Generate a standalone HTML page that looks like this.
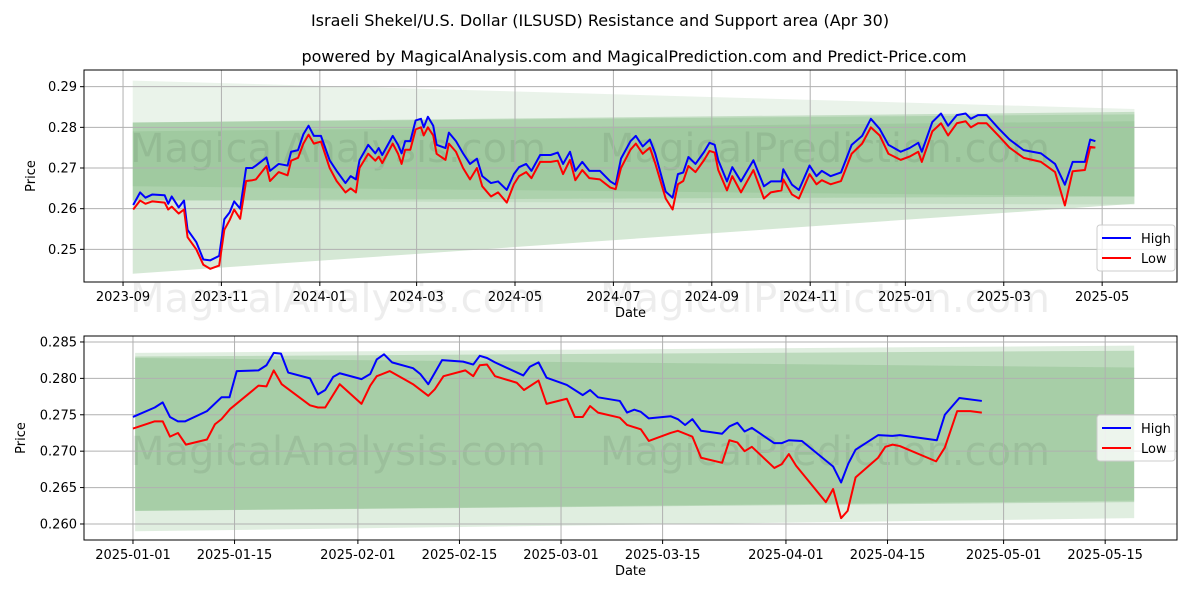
<!DOCTYPE html>
<html><head><meta charset="utf-8"><style>
body{margin:0;background:#fff;font-family:"Liberation Sans","DejaVu Sans",sans-serif;}
svg text{font-family:"DejaVu Sans","Liberation Sans",sans-serif;}
</style></head><body>
<svg id="c" width="1200" height="600" viewBox="0 0 1200 600" xmlns="http://www.w3.org/2000/svg">
<text x="600" y="26" text-anchor="middle" font-size="16">Israeli Shekel/U.S. Dollar (ILSUSD) Resistance and Support area (Apr 30)</text>
<text x="634" y="62" text-anchor="middle" font-size="16">powered by MagicalAnalysis.com and MagicalPrediction.com and Predict-Price.com</text>
</svg>
<script>
// ---- top chart data (day offsets from 2023-09-01) ----
const topDays=[6.3,10.6,13.9,18.2,25.8,28,30.2,34.5,37.8,40,45.4,49.8,54.1,59.6,62.8,66.1,68.9,72.6,76.3,80.2,82.4,88.9,91.1,96.5,102,104.2,108.5,111.8,115,118.3,122.7,128.1,132.4,137.9,141.1,144.4,146.6,152,156.4,158.5,160.7,167.2,170.5,172.7,174.9,178.1,181.4,184.7,186.4,189,192.3,194.4,199.9,202,206.4,210.8,215.1,219.4,222.7,228.1,232.5,237.9,242.3,245.5,249.9,253.2,258.6,265.1,269.5,272.8,277.1,280.4,284.7,289.1,295.6,302.1,305.4,308.7,
314.6,317.9,322.2,326.6,329.9,336.4,340.7,344,347.3,350.5,354.9,360.3,363.6,366.8,369,374.4,377.7,383.1,390.8,397.3,401.6,408.2,409.3,414.7,419,425.6,429.9,433.2,438.6,445.1,451.7,458.2,463.6,469.1,474.5,482.1,487.6,493,495.2,501.7,507.1,511.5,516.9,522.4,525.6,530,535.4,543.1,549.6,558.3,569.1,577.8,583.9,588.7,596.3,599.6,602.8];
const topHigh=[0.2609,0.2640,0.2627,0.2635,0.2633,0.2612,0.2630,0.2603,0.2620,0.2548,0.2518,0.2475,0.2473,0.2484,0.2574,0.2591,0.2618,0.2600,0.2700,0.2700,0.2706,0.2726,0.2693,0.2710,0.2706,0.2740,0.2744,0.2783,0.2804,0.2779,0.2779,0.2719,0.2693,0.2663,0.2680,0.2672,0.2719,0.2757,0.2736,0.2749,0.2732,0.2779,0.2757,0.2736,0.2766,0.2766,0.2817,0.2821,0.2800,0.2826,0.2804,0.2757,0.2749,0.2787,0.2766,0.2736,0.2710,0.2723,0.2680,0.2663,0.2667,0.2646,0.2685,0.2702,0.2710,0.2693,0.2732,0.2732,0.2738,0.2710,0.2740,0.2693,0.2715,0.2693,0.2693,0.2667,0.2659,0.2723,
0.2766,0.2779,0.2753,0.2770,0.2736,0.2642,0.2627,0.2685,0.2689,0.2727,0.2710,0.2740,0.2762,0.2757,0.2719,0.2667,0.2702,0.2667,0.2719,0.2655,0.2667,0.2667,0.2697,0.2659,0.2646,0.2706,0.2680,0.2693,0.2680,0.2689,0.2757,0.2779,0.2821,0.2796,0.2757,0.2740,0.2749,0.2762,0.2740,0.2813,0.2834,0.2804,0.2830,0.2834,0.2821,0.2830,0.2830,0.2796,0.2770,0.2744,0.2736,0.2710,0.2659,0.2715,0.2715,0.2770,0.2766];
const topLow=[0.2598,0.2620,0.2612,0.2618,0.2615,0.2598,0.2605,0.2588,0.2598,0.2530,0.2500,0.2462,0.2452,0.2460,0.2548,0.2572,0.2598,0.2575,0.2668,0.2670,0.2672,0.2705,0.2668,0.2690,0.2682,0.2718,0.2725,0.2760,0.2782,0.2760,0.2765,0.2700,0.2668,0.2640,0.2650,0.2640,0.2700,0.2735,0.2718,0.2728,0.2712,0.2760,0.2735,0.2710,0.2745,0.2745,0.2795,0.2800,0.2780,0.2800,0.2780,0.2735,0.2720,0.2760,0.2740,0.2700,0.2672,0.2700,0.2655,0.2630,0.2640,0.2615,0.2660,0.2680,0.2690,0.2675,0.2715,0.2715,0.2718,0.2685,0.2720,0.2670,0.2695,0.2675,0.2672,0.2652,0.2648,0.2700,
0.2745,0.2760,0.2735,0.2750,0.2712,0.2625,0.2598,0.2660,0.2668,0.2705,0.2690,0.2720,0.2742,0.2738,0.2695,0.2645,0.2680,0.2640,0.2695,0.2625,0.2640,0.2645,0.2672,0.2635,0.2625,0.2685,0.2660,0.2670,0.2660,0.2668,0.2735,0.2760,0.2800,0.2780,0.2735,0.2720,0.2728,0.2740,0.2715,0.2790,0.2810,0.2780,0.2810,0.2815,0.2800,0.2810,0.2810,0.2778,0.2750,0.2725,0.2715,0.2690,0.2608,0.2692,0.2695,0.2752,0.2750];
const topXTickDays=[0,61,122,182,243,304,365,426,485,546,607];
const topXTickLabels=["2023-09","2023-11","2024-01","2024-03","2024-05","2024-07","2024-09","2024-11","2025-01","2025-03","2025-05"];
const topYTicks=[0.25,0.26,0.27,0.28,0.29];
const topYTickLabels=["0.25","0.26","0.27","0.28","0.29"];
// bands: [startDay,endDay, topStart, topEnd, botStart, botEnd, opacity]
const topBands=[[6,627,0.2915,0.2845,0.2620,0.2610,0.10],[6,627,0.2812,0.2838,0.2440,0.2612,0.20],[6,627,0.2812,0.2832,0.2620,0.2630,0.15],[6,627,0.2790,0.2815,0.2655,0.2630,0.10]];
// ---- bottom chart data (day offsets from 2025-01-01) ----
const botHighDays=[0,3.0,4.1,5.1,6.2,7.2,10.2,12.2,13.3,14.3,17.3,18.4,19.4,20.4,21.4,24.4,25.5,26.5,27.6,28.5,31.5,32.7,33.6,34.6,35.7,38.6,39.6,40.7,42.6,45.5,46.9,47.8,48.8,49.9,53.8,54.7,55.9,57.0,59.8,62.0,63.0,64.1,67.1,68.1,69.1,70.0,71.1,74.1,75.1,76.1,77.1,78.3,81.2,82.2,83.3,84.3,85.3,88.4,89.4,90.4,92.2,96.5,97.6,98.6,99.6,102.7,104.7,105.7,110.8,111.9,113.9,117.0];
const botHigh=[0.2747,0.2760,0.2767,0.2747,0.2741,0.2741,0.2755,0.2774,0.2774,0.2810,0.2811,0.2818,0.2835,0.2834,0.2808,0.2800,0.2778,0.2784,0.2802,0.2807,0.2799,0.2806,0.2826,0.2833,0.2822,0.2814,0.2806,0.2792,0.2825,0.2823,0.2819,0.2831,0.2828,0.2822,0.2804,0.2816,0.2822,0.2801,0.2791,0.2777,0.2784,0.2774,0.2769,0.2753,0.2757,0.2754,0.2745,0.2748,0.2744,0.2736,0.2744,0.2728,0.2724,0.2734,0.2739,0.2727,0.2732,0.2711,0.2711,0.2715,0.2714,0.2679,0.2657,0.2683,0.2702,0.2722,0.2721,0.2722,0.2715,0.2750,0.2773,0.2769];
const botLowDays=[0,3.0,4.1,5.1,6.2,7.3,10.2,11.3,12.2,13.4,17.3,18.4,19.4,20.5,24.4,25.5,26.5,28.5,31.5,32.7,33.6,35.4,38.6,40.7,41.6,42.8,45.8,46.9,47.8,48.8,49.9,52.9,53.9,55.9,57.0,59.8,60.9,62.0,63.0,64.1,67.1,68.1,70.0,71.1,74.1,75.1,77.1,78.3,81.2,82.2,83.3,84.3,85.3,88.4,89.4,90.4,91.4,95.5,96.5,97.6,98.5,99.6,102.7,103.7,104.7,105.7,110.7,111.9,113.6,115.4,117.0];
const botLow=[0.2731,0.2741,0.2741,0.2720,0.2725,0.2709,0.2716,0.2737,0.2744,0.2758,0.2790,0.2789,0.2811,0.2792,0.2763,0.2760,0.2760,0.2792,0.2765,0.2790,0.2803,0.2810,0.2792,0.2776,0.2785,0.2803,0.2811,0.2803,0.2818,0.2819,0.2803,0.2794,0.2784,0.2797,0.2765,0.2772,0.2747,0.2747,0.2762,0.2753,0.2746,0.2736,0.2730,0.2714,0.2725,0.2728,0.2720,0.2691,0.2684,0.2715,0.2712,0.2700,0.2706,0.2677,0.2682,0.2696,0.2680,0.2630,0.2648,0.2608,0.2618,0.2664,0.2691,0.2706,0.2709,0.2707,0.2686,0.2705,0.2755,0.2755,0.2753];
const botXTickDays=[0,14,31,45,59,73,90,104,120,134];
const botXTickLabels=["2025-01-01","2025-01-15","2025-02-01","2025-02-15","2025-03-01","2025-03-15","2025-04-01","2025-04-15","2025-05-01","2025-05-15"];
const botYTicks=[0.260,0.265,0.270,0.275,0.280,0.285];
const botYTickLabels=["0.260","0.265","0.270","0.275","0.280","0.285"];
const botBands=[[0.3,138,0.2835,0.2845,0.2590,0.2608,0.15],[0.3,138,0.2830,0.2838,0.2618,0.2630,0.20],[0.3,138,0.2828,0.2815,0.2618,0.2632,0.15]];

const svg=document.getElementById('c');
const NS='http://www.w3.org/2000/svg';
function mk(tag,attrs,parent){const e=document.createElementNS(NS,tag);for(const k in attrs)e.setAttribute(k,attrs[k]);(parent||svg).appendChild(e);return e;}

function drawPanel(p){
  const g=mk('g',{});
  
  
  const X=d=>p.x0+(d-p.d0)/(p.d1-p.d0)*(p.x1-p.x0);
  const Y=v=>p.y1-(v-p.v0)/(p.v1-p.v0)*(p.y1-p.y0);
  p.bands.forEach((b,i)=>{
    const pts=[[X(b[0]),Y(b[2])],[X(b[1]),Y(b[3])],[X(b[1]),Y(b[5])],[X(b[0]),Y(b[4])]];
    const e=mk('polygon',{points:pts.map(q=>q.join(',')).join(' '),fill:'#2e8b2e','fill-opacity':b[6]},g);
    
    
  });
  p.wm.forEach(w=>{
    const t=mk('text',{x:w[0],y:w[1],'font-size':40,fill:'#000','fill-opacity':0.07},g);
    t.textContent=w[2];
    
    
  });
  p.xt.forEach((d,i)=>{
    const x=X(d);
    mk('line',{x1:x,x2:x,y1:p.y0,y2:p.y1,stroke:'#b0b0b0','stroke-width':1},g);
    mk('line',{x1:x,x2:x,y1:p.y1,y2:p.y1+4,stroke:'#000'},g);
    const t=mk('text',{x:x,y:p.y1+19,'text-anchor':'middle','font-size':13},g);
    t.textContent=p.xl[i];
    
    
  });
  p.yt.forEach((v,i)=>{
    const y=Y(v);
    mk('line',{x1:p.x0,x2:p.x1,y1:y,y2:y,stroke:'#b0b0b0','stroke-width':1},g);
    mk('line',{x1:p.x0-4,x2:p.x0,y1:y,y2:y,stroke:'#000'},g);
    const t=mk('text',{x:p.x0-7,y:y+4.5,'text-anchor':'end','font-size':13},g);
    t.textContent=p.yl[i];
    
    
  });
  const hi=mk('polyline',{points:p.hd.map((d,i)=>X(d)+','+Y(p.h[i])).join(' '),fill:'none',stroke:'#0000ff','stroke-width':2,'stroke-linejoin':'round'},g);
  
  
  const lo=mk('polyline',{points:p.ld.map((d,i)=>X(d)+','+Y(p.l[i])).join(' '),fill:'none',stroke:'#ff0000','stroke-width':2,'stroke-linejoin':'round'},g);
  
  
  mk('rect',{x:p.x0,y:p.y0,width:p.x1-p.x0,height:p.y1-p.y0,fill:'none',stroke:'#000','stroke-width':1},g);
  const xt=mk('text',{x:(p.x0+p.x1)/2,y:p.y1+35,'text-anchor':'middle','font-size':13},g);
  xt.textContent='Date';
  
  
  const yc=(p.y0+p.y1)/2;
  const yt=mk('text',{x:p.ylx,y:yc,'text-anchor':'middle','font-size':13,transform:`rotate(-90 ${p.ylx} ${yc})`},g);
  yt.textContent='Price';
  
  
  const lg=mk('g',{},g);
  
  
  mk('rect',{x:1097,y:p.ly,width:78,height:46,rx:3,fill:'#fff','fill-opacity':0.8,stroke:'#ccc'},lg);
  [['High','#0000ff'],['Low','#ff0000']].forEach((e,i)=>{
    const yy=p.ly+13+i*20;
    mk('line',{x1:1102,x2:1131,y1:yy,y2:yy,stroke:e[1],'stroke-width':2},lg);
    const t=mk('text',{x:1141,y:yy+5,'font-size':13},lg);
    t.textContent=e[0];
    
    
  });
}
drawPanel({name:'top-chart',x0:84,x1:1177,y0:70,y1:282,d0:-24.2,d1:653.4,v0:0.24197,v1:0.29410,
  bands:topBands,xt:topXTickDays,xl:topXTickLabels,yt:topYTicks,yl:topYTickLabels,
  hd:topDays,h:topHigh,ld:topDays,l:topLow,ylx:35,ly:225,
  wm:[[130,162,'MagicalAnalysis.com'],[600,162,'MagicalPrediction.com'],[130,312,'MagicalAnalysis.com'],[600,312,'MagicalPrediction.com']]});
drawPanel({name:'bottom-chart',x0:84,x1:1177,y0:336,y1:540,d0:-6.75,d1:143.9,v0:0.25780,v1:0.28582,
  bands:botBands,xt:botXTickDays,xl:botXTickLabels,yt:botYTicks,yl:botYTickLabels,
  hd:botHighDays,h:botHigh,ld:botLowDays,l:botLow,ylx:25,ly:415,
  wm:[[130,465,'MagicalAnalysis.com'],[600,465,'MagicalPrediction.com']]});
</script>
</body></html>
